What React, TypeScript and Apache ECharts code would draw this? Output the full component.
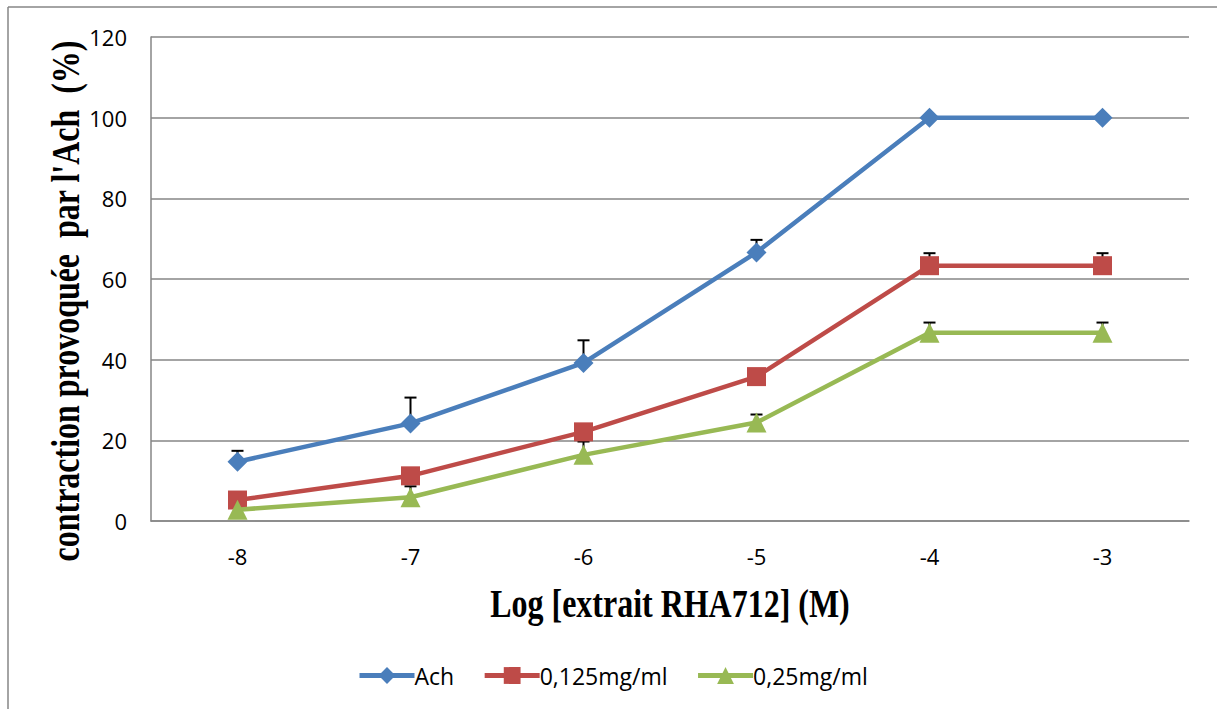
import React, { useEffect, useRef } from "react";
import * as echarts from "echarts";

const categories = ["-8", "-7", "-6", "-5", "-4", "-3"];
const achValues = [14.7, 24.2, 39.2, 66.6, 100, 100];
const achErrors = [2.7, 6.4, 5.6, 3.1, 0, 0];
const lowValues = [5.2, 11.2, 22.1, 35.8, 63.3, 63.3];
const lowErrors = [0, 0, 0, 0, 3.1, 3.1];
const highValues = [2.8, 5.9, 16.4, 24.4, 46.7, 46.7];
const highErrors = [0, 2.7, 3.3, 2.0, 2.5, 2.5];
const seriesNames = ["Ach", "0,125mg/ml", "0,25mg/ml"];
const yTicks = { min: 0, max: 120, interval: 20 };
const xTitle = "Log [extrait RHA712] (M)";
const yTitle = "contraction provoquée  par l'Ach  (%)";

const colors = ["#4A7EBB", "#BE4B48", "#98B954"];

function errorSeries(values: number[], errors: number[], z: number) {
  return {
    type: "custom",
    z,
    silent: true,
    legendHoverLink: false,
    data: values.map((v, i) => [i, v, v + errors[i]]),
    renderItem: (params: any, api: any) => {
      const err = api.value(2) - api.value(1);
      if (err <= 0) return null;
      const base = api.coord([api.value(0), api.value(1)]);
      const top = api.coord([api.value(0), api.value(2)]);
      const half = 6;
      return {
        type: "group",
        children: [
          {
            type: "line",
            shape: { x1: base[0], y1: base[1], x2: top[0], y2: top[1] },
            style: { stroke: "#000", lineWidth: 2 },
          },
          {
            type: "line",
            shape: { x1: top[0] - half, y1: top[1], x2: top[0] + half, y2: top[1] },
            style: { stroke: "#000", lineWidth: 2 },
          },
        ],
      };
    },
  };
}

export default function App() {
  const ref = useRef<HTMLDivElement>(null);
  useEffect(() => {
    if (!ref.current) return;
    const chart = echarts.init(ref.current, undefined, { renderer: "svg" });
    const tickFont = "'Open Sans', 'Liberation Sans', sans-serif";
    const titleFont = "'Liberation Serif', 'DejaVu Serif', serif";
    const lineSeries = (name: string, data: number[], color: string, symbol: string, size: number, z: number) => ({
      type: "line",
      name,
      data,
      z,
      symbol,
      symbolSize: size,
      lineStyle: { color, width: 4.5 },
      itemStyle: { color },
      emphasis: { disabled: true },
    });
    chart.setOption({
      animation: false,
      backgroundColor: "#fff",
      grid: { left: 151, right: 28, top: 37, bottom: 188, containLabel: false },
      xAxis: {
        type: "category",
        data: categories,
        boundaryGap: true,
        axisLine: { lineStyle: { color: "#868686", width: 1.5 } },
        axisTick: { show: false },
        axisLabel: { color: "#000", fontSize: 22, fontFamily: tickFont, margin: 24 },
      },
      yAxis: {
        type: "value",
        min: yTicks.min,
        max: yTicks.max,
        interval: yTicks.interval,
        axisLine: { show: true, lineStyle: { color: "#868686", width: 1.5 } },
        axisTick: { show: false },
        splitLine: { lineStyle: { color: "#868686", width: 1.5 } },
        axisLabel: { color: "#000", fontSize: 22, fontFamily: tickFont, margin: 24 },
      },
      legend: {
        data: seriesNames,
        top: 659,
        left: 352,
        itemWidth: 55,
        itemHeight: 21,
        itemGap: 28,
        lineStyle: { width: 5 },
        textStyle: { color: "#000", fontSize: 23, fontFamily: tickFont, padding: [0, 0, 0, -5] },
      },
      graphic: [
        {
          type: "text",
          x: 65,
          y: 301,
          rotation: Math.PI / 2,
          scaleX: 0.78,
          style: {
            text: yTitle,
            fill: "#000",
            font: `bold 41px ${titleFont}`,
            align: "center",
            verticalAlign: "middle",
          },
        },
        {
          type: "text",
          x: 670,
          y: 603,
          scaleX: 0.78,
          style: {
            text: xTitle,
            fill: "#000",
            font: `bold 41px ${titleFont}`,
            align: "center",
            verticalAlign: "middle",
          },
        },
        { type: "line", shape: { x1: 8, y1: 7, x2: 1217, y2: 7 }, style: { stroke: "#868686", lineWidth: 1.5 } },
        { type: "line", shape: { x1: 8, y1: 7, x2: 8, y2: 709 }, style: { stroke: "#868686", lineWidth: 1.5 } },
      ],
      series: [
        errorSeries(achValues, achErrors, 1),
        errorSeries(lowValues, lowErrors, 1),
        errorSeries(highValues, highErrors, 1),
        lineSeries(seriesNames[0], achValues, colors[0], "diamond", 20, 3),
        lineSeries(seriesNames[1], lowValues, colors[1], "rect", 19, 4),
        lineSeries(seriesNames[2], highValues, colors[2], "triangle", 20, 5),
      ],
    });
    return () => chart.dispose();
  }, []);
  return <div ref={ref} style={{ position: "absolute", left: 0, top: 0, width: 1217, height: 709 }} />;
}
